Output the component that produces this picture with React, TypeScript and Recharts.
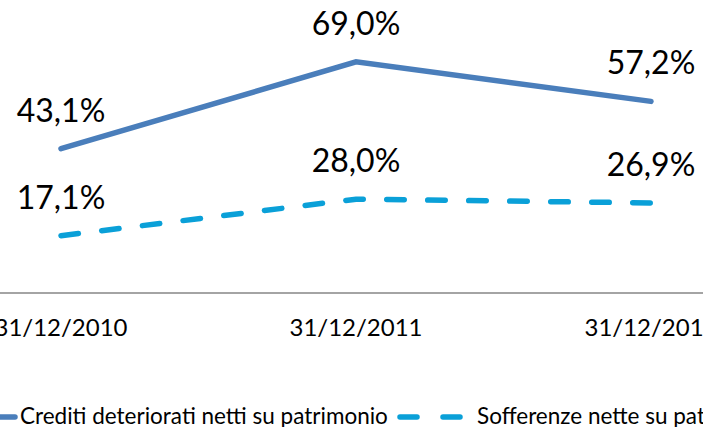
import { LabelList, Legend, Line, LineChart, XAxis, YAxis } from "recharts";

const dates = ["31/12/2010", "31/12/2011", "31/12/2012"];
const creditiDeteriorati = [43.1, 69.0, 57.2];
const sofferenzeNette = [17.1, 28.0, 26.9];

const seriesNames = [
  "Crediti deteriorati netti su patrimonio",
  "Sofferenze nette su patrimonio",
];

const data = dates.map((date, i) => ({
  date,
  crediti: creditiDeteriorati[i],
  sofferenze: sofferenzeNette[i],
}));

const FONT = "Lato, 'Open Sans', sans-serif";
const BLUE = "#4a7ebb";
const CYAN = "#0aa0d8";
const DASH = "17.5 23.5";

const pct = (v: unknown) => `${Number(v).toFixed(1).replace(".", ",")}%`;

// legend drawn by hand: it is wider than the visible area, cut on both sides
const renderLegend = () => (
  <div style={{ position: "relative", height: 32, fontFamily: FONT, fontSize: 22.5, color: "#000" }}>
    <svg width={42} height={10} style={{ position: "absolute", left: -22, top: 9 }}>
      <line x1={3} y1={5} x2={37} y2={5} stroke={BLUE} strokeWidth={5.5} strokeLinecap="round" />
    </svg>
    <span style={{ position: "absolute", left: 20, top: -1, whiteSpace: "nowrap" }}>{seriesNames[0]}</span>
    <svg width={68} height={10} style={{ position: "absolute", left: 397, top: 9 }}>
      <line
        x1={3}
        y1={5}
        x2={65}
        y2={5}
        stroke={CYAN}
        strokeWidth={5.5}
        strokeLinecap="round"
        strokeDasharray="17 26"
      />
    </svg>
    <span style={{ position: "absolute", left: 477, top: -1, whiteSpace: "nowrap" }}>{seriesNames[1]}</span>
  </div>
);

export default function App() {
  return (
    <div
      style={{
        position: "absolute",
        left: 0,
        top: 0,
        width: 703,
        height: 427,
        overflow: "hidden",
        background: "#fff",
      }}
    >
      <LineChart width={703} height={427} data={data} margin={{ top: 25, right: 0, bottom: 104, left: 0 }}>
        <XAxis
          dataKey="date"
          padding={{ left: 61, right: 52 }}
          interval={0}
          tickLine={false}
          tickSize={0}
          tickMargin={26}
          axisLine={{ stroke: "#868686", strokeWidth: 1.5 }}
          tick={{ fontFamily: FONT, fontSize: 24, fill: "#000" }}
        />
        <YAxis hide domain={[0, 80]} />
        <Legend
          content={renderLegend}
          layout="horizontal"
          align="center"
          verticalAlign="middle"
          wrapperStyle={{ left: 0, top: 403, width: 900 }}
        />
        <Line
          dataKey="crediti"
          name={seriesNames[0]}
          stroke={BLUE}
          strokeWidth={5.5}
          strokeLinecap="round"
          dot={false}
          activeDot={false}
          isAnimationActive={false}
        >
          <LabelList
            dataKey="crediti"
            position="top"
            offset={27}
            formatter={pct}
            style={{ fontFamily: FONT, fontSize: 32, fill: "#000" }}
          />
        </Line>
        <Line
          dataKey="sofferenze"
          name={seriesNames[1]}
          stroke={CYAN}
          strokeWidth={5.5}
          strokeLinecap="round"
          strokeDasharray={DASH}
          dot={false}
          activeDot={false}
          isAnimationActive={false}
        >
          <LabelList
            dataKey="sofferenze"
            position="top"
            offset={27}
            formatter={pct}
            style={{ fontFamily: FONT, fontSize: 32, fill: "#000" }}
          />
        </Line>
      </LineChart>
    </div>
  );
}
